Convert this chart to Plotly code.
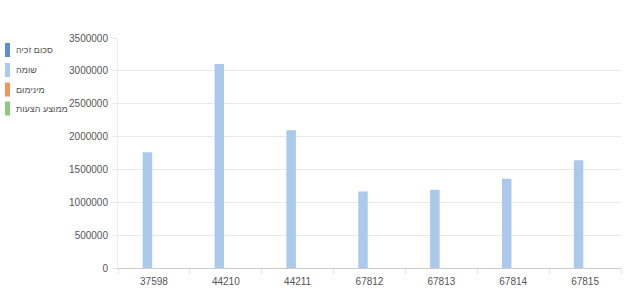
import plotly.graph_objects as go

categories = ["37598", "44210", "44211", "67812", "67813", "67814", "67815"]
series_names = ["סכום זכיה", "שומה", "מינימום", "ממוצע הצעות"]
win_amount = [None] * 7
assessment = [1760000, 3105000, 2095000, 1165000, 1190000, 1360000, 1640000]
minimum = [None] * 7
avg_offers = [None] * 7
colors = ["#5b8fcb", "#abc9ea", "#ef9659", "#8ccb7c"]
y_ticks = [0, 500000, 1000000, 1500000, 2000000, 2500000, 3000000, 3500000]

W, H = 635, 290
ML, MR, MT, MB = 118, 14, 38, 22
PW, PH = W - ML - MR, H - MT - MB


def px_x(x):
    return (x - ML) / PW


def px_y(y):
    return (H - MB - y) / PH


fig = go.Figure()
for name, vals, col in zip(series_names, [win_amount, assessment, minimum, avg_offers], colors):
    fig.add_trace(go.Bar(x=categories, y=vals, name=name, marker=dict(color=col, line=dict(width=0))))

# custom legend (left side, thin vertical colour bars)
legend_y = [50, 70, 89.5, 108.5]
shapes = []
annotations = []
for name, col, cy in zip(series_names, colors, legend_y):
    shapes.append(dict(type="rect", xref="paper", yref="paper",
                       x0=px_x(5), x1=px_x(10), y0=px_y(cy + 7), y1=px_y(cy - 7),
                       fillcolor=col, line=dict(width=0), layer="above"))
    annotations.append(dict(xref="paper", yref="paper", x=px_x(14), y=px_y(cy),
                            xanchor="left", yanchor="middle", showarrow=False,
                            text=name, font=dict(size=9, color="#555555")))

font_family = "Liberation Sans, Arial, sans-serif"
fig.update_layout(
    width=W, height=H,
    margin=dict(l=ML, r=MR, t=MT, b=MB),
    paper_bgcolor="white", plot_bgcolor="white",
    barmode="group", bargap=0.276, bargroupgap=0.27,
    font=dict(family=font_family, size=10, color="#555555"),
    showlegend=False,
    shapes=shapes,
    annotations=annotations,
    xaxis=dict(type="category", showgrid=False, showline=True, linecolor="#cccccc", linewidth=1,
               ticks="outside", tickson="boundaries", ticklen=5, tickcolor="#e6e6e6",
               ticklabelstandoff=4,
               tickfont=dict(size=10, color="#555555"), automargin=False),
    yaxis=dict(range=[0, 3500000], tickvals=y_ticks, ticktext=[str(v) for v in y_ticks],
               showgrid=True, gridcolor="#e8e8e8", gridwidth=1, zeroline=False,
               showline=True, linecolor="#eeeeee", ticks="outside", ticklen=5, tickcolor="#e8e8e8",
               ticklabelstandoff=2,
               tickfont=dict(size=10, color="#555555"), automargin=False),
)
fig.write_html("out.html")
